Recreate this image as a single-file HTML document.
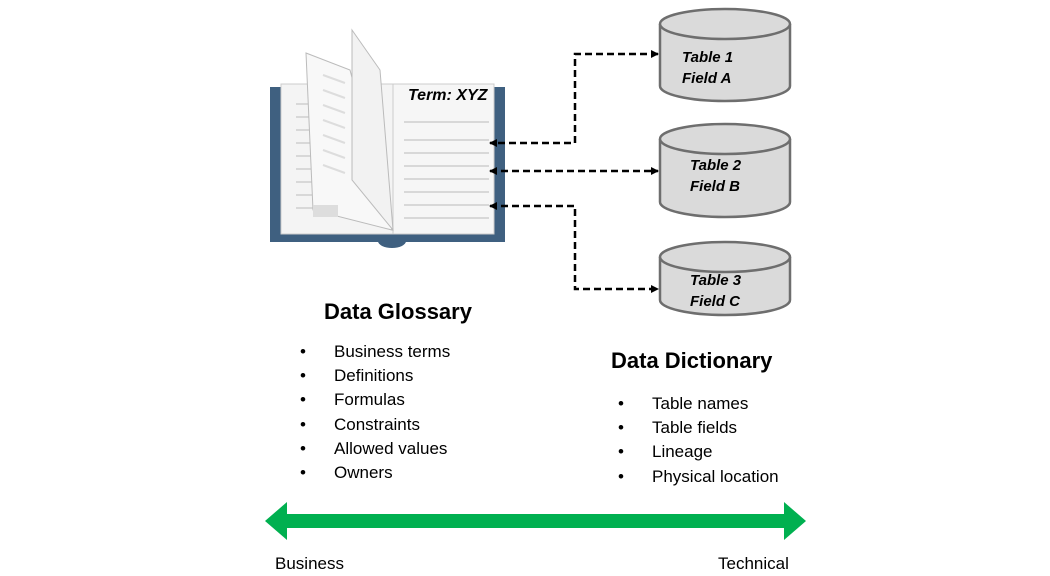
<!DOCTYPE html>
<html><head><style>
body{margin:0;width:1050px;height:576px;background:#fff;overflow:hidden;font-family:"Liberation Sans",sans-serif;position:relative}
.t{position:absolute;white-space:nowrap;color:#000}
.h{font-weight:bold;font-size:22px}
.li{font-size:17px}
</style></head><body>
<svg width="1050" height="576" style="position:absolute;left:0;top:0">
<defs>
<marker id="a" markerWidth="8" markerHeight="8" refX="7" refY="4" orient="auto-start-reverse" markerUnits="userSpaceOnUse"><path d="M0,0 L8,4 L0,8 z" fill="#000"/></marker>
</defs>
<rect x="270" y="87" width="235" height="155" fill="#3f6080"/>
<ellipse cx="392" cy="241" rx="14" ry="7" fill="#3f6080"/>
<rect x="281" y="84" width="112" height="150" fill="#f4f4f4" stroke="#ccc"/>
<rect x="393" y="84" width="101" height="150" fill="#f6f6f6" stroke="#ccc"/>
<g stroke="#d8d8d8" stroke-width="2">
<line x1="296" y1="104" x2="335" y2="104"/><line x1="296" y1="117" x2="335" y2="117"/><line x1="296" y1="130" x2="335" y2="130"/><line x1="296" y1="143" x2="335" y2="143"/><line x1="296" y1="156" x2="335" y2="156"/><line x1="296" y1="169" x2="335" y2="169"/><line x1="296" y1="182" x2="335" y2="182"/><line x1="296" y1="195" x2="335" y2="195"/><line x1="296" y1="208" x2="335" y2="208"/>
<line x1="404" y1="122" x2="489" y2="122"/><line x1="404" y1="140" x2="489" y2="140"/><line x1="404" y1="153" x2="489" y2="153"/><line x1="404" y1="166" x2="489" y2="166"/><line x1="404" y1="179" x2="489" y2="179"/><line x1="404" y1="192" x2="489" y2="192"/><line x1="404" y1="205" x2="489" y2="205"/><line x1="404" y1="218" x2="489" y2="218"/>
</g>
<polygon points="306,53 350,70 392,230 313,210" fill="#f8f8f8" stroke="#bbb"/>
<polygon points="352,30 380,70 393,230 352,180" fill="#f2f2f2" stroke="#bbb"/>
<rect x="313" y="205" width="25" height="12" fill="#ddd"/>
<g stroke="#ddd" stroke-width="2"><line x1="323" y1="75" x2="345" y2="83"/><line x1="323" y1="90" x2="345" y2="98"/><line x1="323" y1="105" x2="345" y2="113"/><line x1="323" y1="120" x2="345" y2="128"/><line x1="323" y1="135" x2="345" y2="143"/><line x1="323" y1="150" x2="345" y2="158"/><line x1="323" y1="165" x2="345" y2="173"/></g>
<g fill="#dadada" stroke="#6e6e6e" stroke-width="2.5">
<path d="M660,24 L660,86 A65,15 0 0 0 790,86 L790,24"/><ellipse cx="725" cy="24" rx="65" ry="15"/>
<path d="M660,139 L660,202 A65,15 0 0 0 790,202 L790,139"/><ellipse cx="725" cy="139" rx="65" ry="15"/>
<path d="M660,257 L660,300 A65,15 0 0 0 790,300 L790,257"/><ellipse cx="725" cy="257" rx="65" ry="15"/>
</g>
<g fill="none" stroke="#000" stroke-width="2.5" stroke-dasharray="7,4">
<path d="M658,54 L575,54 L575,143 L490,143" marker-end="url(#a)" marker-start="url(#a)"/>
<path d="M490,171 L658,171" marker-end="url(#a)" marker-start="url(#a)"/>
<path d="M490,206 L575,206 L575,289 L658,289" marker-end="url(#a)" marker-start="url(#a)"/>
</g>
<polygon points="265,521 287,502 287,514 784,514 784,502 806,521 784,540 784,528 287,528 287,540" fill="#00b050"/>
</svg>
<div class="t" style="left:408px;top:87px;font:italic bold 16px 'Liberation Sans',sans-serif">Term: XYZ</div>
<div class="t" style="left:682px;top:47px;font:italic bold 15px/21px 'Liberation Sans',sans-serif">Table 1<br>Field A</div>
<div class="t" style="left:690px;top:155px;font:italic bold 15px/21px 'Liberation Sans',sans-serif">Table 2<br>Field B</div>
<div class="t" style="left:690px;top:270px;font:italic bold 15px/21px 'Liberation Sans',sans-serif">Table 3<br>Field C</div>
<div class="t h" style="left:324px;top:299px">Data Glossary</div>
<div class="t li" style="left:300px;top:340px;line-height:24.2px">•<br>•<br>•<br>•<br>•<br>•</div>
<div class="t li" style="left:334px;top:340px;line-height:24.2px">Business terms<br>Definitions<br>Formulas<br>Constraints<br>Allowed values<br>Owners</div>
<div class="t h" style="left:611px;top:348px">Data Dictionary</div>
<div class="t li" style="left:618px;top:392px;line-height:24.2px">•<br>•<br>•<br>•</div>
<div class="t li" style="left:652px;top:392px;line-height:24.2px">Table names<br>Table fields<br>Lineage<br>Physical location</div>
<div class="t li" style="left:275px;top:554px">Business</div>
<div class="t li" style="left:718px;top:554px">Technical</div>
</body></html>
